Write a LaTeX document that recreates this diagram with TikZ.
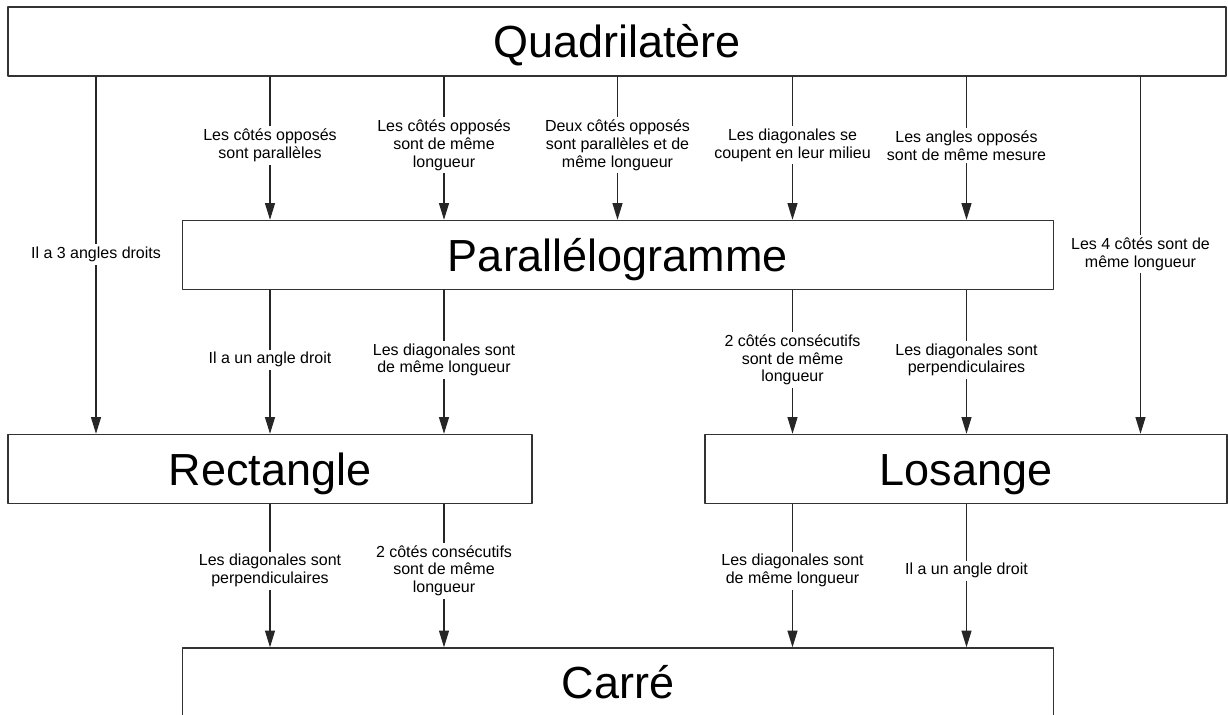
\documentclass[tikz,border=0pt]{standalone}
\usepackage{fontspec}
\setmainfont{Liberation Sans}
\usetikzlibrary{arrows.meta}

\begin{document}
\begin{tikzpicture}[line cap=round,line join=round,>={Triangle[length=9.5pt,width=5.7pt]},x=1cm,y=1cm,
  forme/.style={draw=black!80,line width=0.8pt,minimum height=1.38cm,inner sep=0pt,text height=0.644cm,text depth=0pt,font=\fontsize{25.6}{30}\selectfont},
  fleche/.style={->,draw=black!85,line width=0.6pt},
  propriete/.style={fill=white,inner sep=1.5pt,align=center,font=\fontsize{9.1}{10.2}\selectfont}]
\clip(0, 0)rectangle(24.56, -14.3);

\coordinate (c0) at (1.92, 0);
\coordinate (c1) at (5.40, 0);
\coordinate (c2) at (8.88, 0);
\coordinate (c3) at (12.35, 0);
\coordinate (c4) at (15.85, 0);
\coordinate (c5) at (19.33, 0);
\coordinate (c6) at (22.81, 0);

\node[forme, minimum width=24.36cm] (quad) at (12.34, -0.83) {Quadrilatère};
\node[forme, minimum width=17.42cm] (para) at (12.36, -5.10) {Parallélogramme};
\node[forme, minimum width=10.48cm] (rect) at (5.40, -9.38) {Rectangle};
\node[forme, minimum width=10.44cm] (los) at (19.32, -9.38) {Losange};
\node[forme, minimum width=17.42cm] (carre) at (12.36, -13.65) {Carré};

\draw[fleche] (quad.south -| c0) -- node[propriete, pos=0.498] {Il a 3 angles droits} (rect.north -| c0);
\draw[fleche] (quad.south -| c1) -- node[propriete, pos=0.48] {Les côtés opposés\\sont parallèles} (para.north -| c1);
\draw[fleche] (quad.south -| c2) -- node[propriete, pos=0.48] {Les côtés opposés\\sont de même\\longueur} (para.north -| c2);
\draw[fleche] (quad.south -| c3) -- node[propriete, pos=0.48] {Deux côtés opposés\\sont parallèles et de\\même longueur} (para.north -| c3);
\draw[fleche] (quad.south -| c4) -- node[propriete, pos=0.48] {Les diagonales se\\coupent en leur milieu} (para.north -| c4);
\draw[fleche] (quad.south -| c5) -- node[propriete, pos=0.48] {Les angles opposés\\sont de même mesure} (para.north -| c5);
\draw[fleche] (quad.south -| c6) -- node[propriete, pos=0.497] {Les 4 côtés sont de\\même longueur} (los.north -| c6);

\draw[fleche] (para.south -| c1) -- node[propriete, pos=0.485] {Il a un angle droit} (rect.north -| c1);
\draw[fleche] (para.south -| c2) -- node[propriete, pos=0.485] {Les diagonales sont\\de même longueur} (rect.north -| c2);
\draw[fleche] (para.south -| c4) -- node[propriete, pos=0.485] {2 côtés consécutifs\\sont de même\\longueur} (los.north -| c4);
\draw[fleche] (para.south -| c5) -- node[propriete, pos=0.485] {Les diagonales sont\\perpendiculaires} (los.north -| c5);

\draw[fleche] (rect.south -| c1) -- node[propriete, pos=0.465] {Les diagonales sont\\perpendiculaires} (carre.north -| c1);
\draw[fleche] (rect.south -| c2) -- node[propriete, pos=0.465] {2 côtés consécutifs\\sont de même\\longueur} (carre.north -| c2);
\draw[fleche] (los.south -| c4) -- node[propriete, pos=0.465] {Les diagonales sont\\de même longueur} (carre.north -| c4);
\draw[fleche] (los.south -| c5) -- node[propriete, pos=0.465] {Il a un angle droit} (carre.north -| c5);

\end{tikzpicture}
\end{document}
